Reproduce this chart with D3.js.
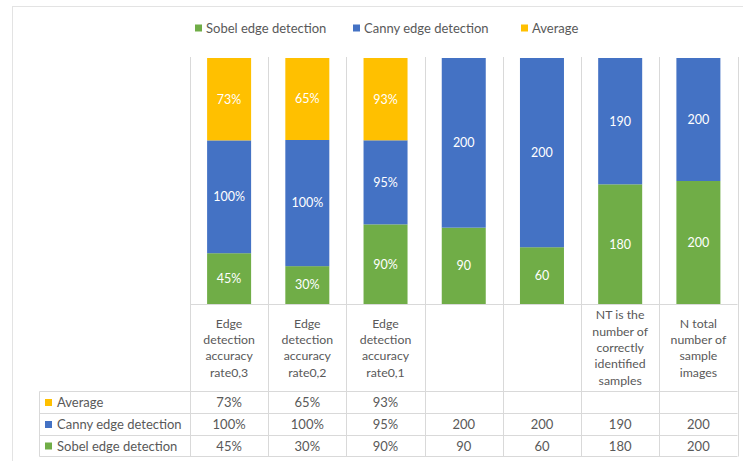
<!DOCTYPE html>
<html>
<head>
<meta charset="utf-8">
<script src="https://cdn.jsdelivr.net/npm/d3@7"></script>
<style>
  html, body { margin: 0; padding: 0; background: #fff; }
  svg { display: block; }
  text { font-family: "Lato", "Liberation Sans", sans-serif; }
</style>
</head>
<body>
<svg id="chart" width="743" height="461"></svg>
<script>
// Categories (multi-line labels shown in the data table header)
const categories = [
  ["Edge", "detection", "accuracy", "rate0,3"],
  ["Edge", "detection", "accuracy", "rate0,2"],
  ["Edge", "detection", "accuracy", "rate0,1"],
  [],
  [],
  ["NT is the", "number of", "correctly", "identified", "samples"],
  ["N total", "number of", "sample", "images"]
];
const units = ["%", "%", "%", "", "", "", ""];

// Series values
const sobel   = [45, 30, 90, 90, 60, 180, 200];
const canny   = [100, 100, 95, 200, 200, 190, 200];
const average = [73, 65, 93, null, null, null, null];

const seriesNames = ["Sobel edge detection", "Canny edge detection", "Average"];
const seriesKeys = ["sobel", "canny", "average"];
const colors = { sobel: "#70AD47", canny: "#4472C4", average: "#FFC000" };

const rows = categories.map((c, i) => ({
  idx: i,
  sobel: sobel[i],
  canny: canny[i],
  average: average[i] == null ? 0 : average[i]
}));

const svg = d3.select("#chart");
const textColor = "#595959";
const gridColor = "#D9D9D9";

// Outer chart frame
svg.append("rect")
  .attr("x", 12.5).attr("y", 6.5).attr("width", 740).attr("height", 470)
  .attr("fill", "#fff").attr("stroke", "#E3E3E3").attr("stroke-width", 1);

// Layout
const plotLeft = 190, plotRight = 737.5;
const plotTop = 58, plotBottom = 304;
const headBottom = 391.5;
const rowH = [391.5, 413.5, 435.5, 456.5];
const tableLeft = 39.5;

const x = d3.scaleBand()
  .domain(d3.range(categories.length))
  .range([plotLeft, plotRight])
  .paddingInner(0).paddingOuter(0);
const barW = 44;

// 100% stacked layout
const stack = d3.stack().keys(seriesKeys).offset(d3.stackOffsetExpand);
const stacked = stack(rows);

const y = d3.scaleLinear().domain([0, 1]).range([plotBottom, plotTop]);

// Column separators running through plot and table
const bounds = d3.range(categories.length + 1).map(i => i === categories.length ? plotRight : x(i));
svg.append("g").selectAll("line").data(bounds).join("line")
  .attr("x1", d => Math.round(d) + 0.5).attr("x2", d => Math.round(d) + 0.5)
  .attr("y1", plotTop - 1).attr("y2", rowH[3])
  .attr("stroke", gridColor).attr("stroke-width", 1);

// Table horizontal lines
svg.append("line")
  .attr("x1", plotLeft).attr("x2", plotRight)
  .attr("y1", plotBottom + 0.5).attr("y2", plotBottom + 0.5)
  .attr("stroke", gridColor);
svg.append("g").selectAll("line").data(rowH).join("line")
  .attr("x1", tableLeft).attr("x2", plotRight)
  .attr("y1", d => d).attr("y2", d => d)
  .attr("stroke", gridColor);
svg.append("line")
  .attr("x1", tableLeft).attr("x2", tableLeft)
  .attr("y1", rowH[0]).attr("y2", rowH[3])
  .attr("stroke", gridColor);

// Bars
const layers = svg.append("g").selectAll("g").data(stacked).join("g")
  .attr("fill", d => colors[d.key]);
layers.selectAll("rect").data(d => d.map(s => ({ s, key: d.key })))
  .join("rect")
  .attr("x", d => x(d.s.data.idx) + (x.bandwidth() - barW) / 2)
  .attr("width", barW)
  .attr("y", d => y(d.s[1]))
  .attr("height", d => Math.max(0, y(d.s[0]) - y(d.s[1])));

// Segment value labels
const valueOf = (key, i) => ({ sobel, canny, average })[key][i];
layers.selectAll("text").data(d => d.map(s => ({ s, key: d.key })).filter(d => valueOf(d.key, d.s.data.idx) != null))
  .join("text")
  .attr("x", d => x(d.s.data.idx) + x.bandwidth() / 2)
  .attr("y", d => (y(d.s[0]) + y(d.s[1])) / 2)
  .attr("dy", "0.35em")
  .attr("text-anchor", "middle")
  .attr("fill", "#fff")
  .attr("font-size", 12.5)
  .text(d => valueOf(d.key, d.s.data.idx) + units[d.s.data.idx]);

// Category header labels
const head = svg.append("g");
categories.forEach((lines, i) => {
  const lh = 16.3;
  const cy = (plotBottom + headBottom) / 2;
  const t = head.append("text")
    .attr("text-anchor", "middle")
    .attr("fill", textColor)
    .attr("font-size", 12.3);
  lines.forEach((ln, j) => {
    t.append("tspan")
      .attr("x", x(i) + x.bandwidth() / 2)
      .attr("y", cy + (j - (lines.length - 1) / 2) * lh)
      .attr("dy", "0.35em")
      .text(ln);
  });
});

// Data table rows
const tableRows = [
  { key: "average", name: "Average", vals: average },
  { key: "canny", name: "Canny edge detection", vals: canny },
  { key: "sobel", name: "Sobel edge detection", vals: sobel }
];
tableRows.forEach((r, ri) => {
  const cy = (rowH[ri] + rowH[ri + 1]) / 2;
  svg.append("rect")
    .attr("x", 45).attr("y", cy - 3.5).attr("width", 7).attr("height", 7)
    .attr("fill", colors[r.key]);
  svg.append("text")
    .attr("x", 57).attr("y", cy).attr("dy", "0.35em")
    .attr("fill", textColor).attr("font-size", 13)
    .text(r.name);
  svg.append("g").selectAll("text").data(r.vals.map((v, i) => ({ v, i })).filter(d => d.v != null))
    .join("text")
    .attr("x", d => x(d.i) + x.bandwidth() / 2)
    .attr("y", cy).attr("dy", "0.35em")
    .attr("text-anchor", "middle")
    .attr("fill", textColor).attr("font-size", 13)
    .text(d => d.v + units[d.i]);
});

// Legend
const legend = svg.append("g");
const legendItems = [
  { key: "sobel", name: seriesNames[0], x: 195 },
  { key: "canny", name: seriesNames[1], x: 353 },
  { key: "average", name: seriesNames[2], x: 521 }
];
legendItems.forEach(d => {
  legend.append("rect")
    .attr("x", d.x).attr("y", 28 - 3.5).attr("width", 7).attr("height", 7)
    .attr("fill", colors[d.key]);
  legend.append("text")
    .attr("x", d.x + 11).attr("y", 28).attr("dy", "0.35em")
    .attr("fill", textColor).attr("font-size", 13)
    .text(d.name);
});
</script>
</body>
</html>
